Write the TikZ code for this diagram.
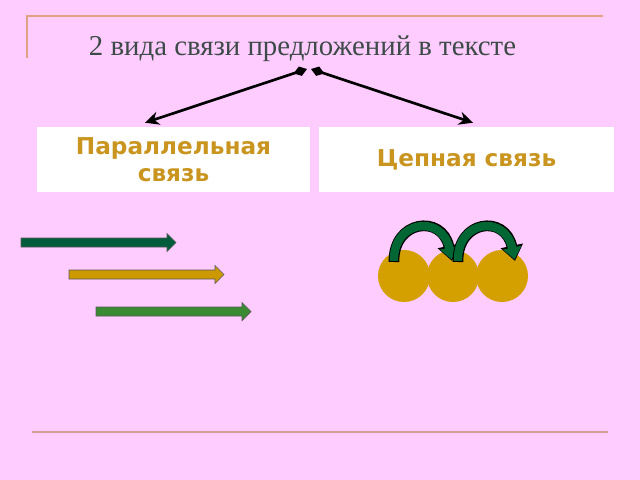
\documentclass[tikz,border=0pt]{standalone}
\usepackage{fontspec}
\setmainfont{Liberation Serif}
\newfontfamily\boxfont{DejaVu Sans}
\usepackage{xcolor}
\usepackage{tikz}
\usetikzlibrary{positioning,arrows.meta,calc}
\definecolor{bgpink}{HTML}{FFCCFF}
\definecolor{toprule}{HTML}{E0A283}
\definecolor{bottomrule}{HTML}{CFA093}
\definecolor{titlegray}{HTML}{3D4B48}
\definecolor{goldtext}{HTML}{C9951F}
\definecolor{darkgreen}{HTML}{005C3A}
\definecolor{ochre}{HTML}{CC9900}
\definecolor{leafgreen}{HTML}{3A8A32}
\definecolor{ballgold}{HTML}{D4A000}
\definecolor{arcgreen}{HTML}{006633}

\begin{document}
\begin{tikzpicture}[x=0.025cm, y=-0.025cm,
  kindbox/.style={fill=white, minimum height=1.625cm, inner sep=0pt, align=center,
    font=\boxfont\bfseries\fontsize{16.5}{19.5}\selectfont, text=goldtext},
  pointer/.style={line width=1.9pt, {Diamond[length=10pt,width=7pt]}-{Stealth[length=10pt,width=9.5pt]}},
  ball/.style={circle, fill=ballgold, minimum size=1.3cm, inner sep=0pt},
  hopedge/.style={line width=7.6pt, -{Triangle[length=11pt,width=15.5pt]}},
  hopbody/.style={arcgreen, line width=6pt, shorten >=1.1pt, shorten <=0.8pt,
    -{Triangle[length=8.6pt,width=12.8pt]}}]
  % page and frame lines
  \fill[bgpink] (0,0) rectangle (640,480);
  \useasboundingbox (0,0) rectangle (640,480);
  \draw[toprule, line width=1.4pt] (27,58) -- (27,16) -- (603,16);
  \draw[bottomrule, line width=1.4pt] (32,432) -- (608,432);

  % title and the two kinds
  \node[anchor=base, text=titlegray, font=\fontsize{20.5}{24}\selectfont] (title) at (302.5,56)
    {2 вида связи предложений в тексте};
  \node[kindbox, minimum width=6.825cm] (par) at (173.5,159.5) {Параллельная\\связь};
  \node[kindbox, minimum width=7.375cm] (chain) at (466.5,159.5) {Цепная связь};

  \coordinate (fork) at (309,69);
  \draw[pointer] ($(fork)+(-2,0)$) -- ($(par.north)+(-28.5,-4)$);
  \draw[pointer] ($(fork)+(2,0)$) -- ($(chain.north)+(6.5,-4)$);

  % parallel: three block arrows
  \foreach \s/\t/\c/\col in {21/176/242.5/darkgreen, 69/224/274.5/ochre, 96/251/311.5/leafgreen}
    \draw[fill=\col, draw=black!65, line width=0.5pt]
      (\s,{\c-4.5}) -- ({\t-9},{\c-4.5}) -- ({\t-9},{\c-9}) -- (\t,\c)
      -- ({\t-9},{\c+9}) -- ({\t-9},{\c+4.5}) -- (\s,{\c+4.5}) -- cycle;

  % chain: balls and hops
  \node[ball] (c1) at (404,276) {};
  \node[ball] (c2) at (453,276) {};
  \node[ball] (c3) at (502,276) {};

  \draw[hopedge] ($(c1)+(-10,-14)$) .. controls ($(c1)+(-11,-56)$) and ($(c2)+(-11,-62)$) .. ($(c2)+(-1,-15)$);
  \draw[hopbody] ($(c1)+(-10,-14)$) .. controls ($(c1)+(-11,-56)$) and ($(c2)+(-11,-62)$) .. ($(c2)+(-1,-15)$);
  \draw[hopedge] ($(c2)+(5,-14)$) .. controls ($(c2)+(4,-56)$) and ($(c3)+(3,-62)$) .. ($(c3)+(13,-15)$);
  \draw[hopbody] ($(c2)+(5,-14)$) .. controls ($(c2)+(4,-56)$) and ($(c3)+(3,-62)$) .. ($(c3)+(13,-15)$);
\end{tikzpicture}
\end{document}
